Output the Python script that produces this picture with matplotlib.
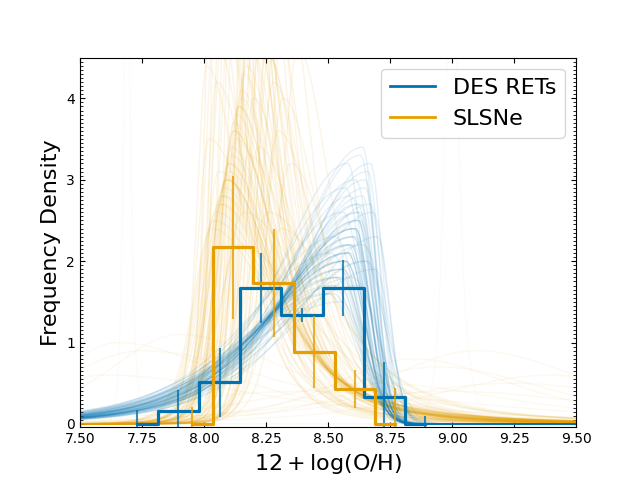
import matplotlib
matplotlib.use('Agg')
import matplotlib.pyplot as plt
from matplotlib.ticker import MultipleLocator
import numpy as np

BLUE = '#0072B2'
ORANGE = '#E69F00'

# binned histograms (bin centres, density, error)
des_centres = [7.730, 7.896, 8.063, 8.229, 8.395, 8.561, 8.727, 8.893]
des_density = [0.00, 0.16, 0.51, 1.67, 1.34, 1.67, 0.33, 0.00]
des_err = [0.17, 0.26, 0.42, 0.43, 0.09, 0.34, 0.43, 0.10]

sl_centres = [7.952, 8.117, 8.281, 8.445, 8.608, 8.772]
sl_density = [0.00, 2.17, 1.73, 0.88, 0.43, 0.00]
sl_err = [0.21, 0.88, 0.66, 0.44, 0.23, 0.44]

# individual posterior curves: mode, peak height, left width, right width
des_mode = [8.58, 8.62, 8.55, 8.60, 8.64, 8.57, 8.61, 8.53, 8.66, 8.59,
            8.63, 8.56, 8.60, 8.62, 8.54, 8.65, 8.58, 8.61, 8.57, 8.63,
            8.59, 8.52, 8.64, 8.60, 8.56, 8.62, 8.58, 8.67, 8.55, 8.61,
            8.59, 8.63, 8.57, 8.60, 8.54, 8.62, 8.58, 8.65, 8.61, 8.56,
            8.68, 8.50, 8.57, 8.70, 8.63, 8.55, 8.66, 8.59, 8.52, 8.64,
            8.61, 8.69, 8.56, 8.60, 8.53, 8.67, 8.58, 8.62, 8.65, 8.51]
des_peak = [2.2, 2.5, 1.9, 2.3, 2.8, 2.0, 2.4, 1.8, 3.1, 2.1,
            2.6, 1.9, 2.2, 2.7, 1.7, 2.9, 2.1, 2.3, 2.0, 2.5,
            2.2, 1.7, 3.4, 2.4, 1.9, 2.6, 2.1, 3.2, 1.8, 2.4,
            2.2, 2.7, 2.0, 2.3, 1.8, 2.5, 2.1, 3.0, 2.4, 2.0,
            2.6, 1.6, 2.9, 2.3, 3.3, 1.5, 2.0, 2.8, 1.6, 2.2,
            3.0, 1.9, 2.6, 1.8, 2.3, 2.7, 3.2, 1.7, 2.0, 2.1]
des_left = [0.35, 0.33, 0.37, 0.34, 0.31, 0.36, 0.33, 0.38, 0.30, 0.35,
            0.32, 0.37, 0.34, 0.31, 0.39, 0.30, 0.35, 0.34, 0.36, 0.32,
            0.35, 0.40, 0.29, 0.33, 0.37, 0.32, 0.36, 0.29, 0.38, 0.33,
            0.35, 0.31, 0.36, 0.34, 0.38, 0.32, 0.35, 0.30, 0.33, 0.37,
            0.31, 0.40, 0.31, 0.33, 0.28, 0.42, 0.36, 0.30, 0.40, 0.34,
            0.30, 0.37, 0.32, 0.38, 0.34, 0.32, 0.29, 0.39, 0.35, 0.36]
des_right = [0.07, 0.06, 0.08, 0.07, 0.05, 0.08, 0.06, 0.09, 0.05, 0.07,
             0.06, 0.08, 0.07, 0.06, 0.09, 0.05, 0.07, 0.06, 0.08, 0.06,
             0.07, 0.10, 0.05, 0.07, 0.08, 0.06, 0.07, 0.05, 0.09, 0.06,
             0.07, 0.06, 0.08, 0.07, 0.09, 0.06, 0.07, 0.05, 0.06, 0.08,
             0.06, 0.11, 0.07, 0.05, 0.06, 0.10, 0.07, 0.08, 0.10, 0.09,
             0.07, 0.06, 0.08, 0.10, 0.09, 0.05, 0.06, 0.09, 0.08, 0.11]

sl_mode = [8.10, 8.15, 8.07, 8.20, 8.12, 8.05, 8.18, 8.09, 8.25, 8.13,
           8.08, 8.16, 8.22, 8.11, 8.04, 8.14, 8.28, 8.10, 8.19, 8.06,
           8.13, 8.23, 8.09, 8.17, 8.12, 8.03, 8.21, 8.15, 8.30, 8.08,
           8.11, 8.18, 8.14, 8.07, 8.26, 8.10, 8.16, 8.12, 8.20, 8.09,
           8.02, 8.24, 8.13, 8.06, 8.32, 8.17, 8.11, 8.27, 8.05, 8.19,
           8.14, 8.08, 8.22, 8.35, 8.10, 8.16, 8.04, 8.29, 8.12, 8.18,
           8.03, 8.33, 8.06, 8.38, 8.01, 8.26, 8.07, 8.31]
sl_peak = [3.2, 4.0, 2.8, 4.8, 3.6, 2.6, 5.5, 3.0, 4.6, 3.8,
           2.9, 4.3, 5.2, 3.4, 2.5, 3.9, 4.2, 3.1, 6.0, 2.7,
           3.5, 4.9, 3.0, 4.4, 3.7, 2.4, 5.8, 4.1, 3.6, 2.8,
           3.3, 4.7, 3.9, 2.7, 4.5, 3.2, 5.0, 3.6, 4.0, 3.0,
           3.5, 6.5, 7.0, 3.1, 4.0, 6.8, 5.3, 5.6, 4.2, 7.5,
           2.2, 5.0, 3.4, 3.2, 6.2, 2.6, 4.8, 5.0, 8.0, 3.3,
           6.0, 5.5, 7.2, 4.6, 4.4, 2.6, 5.2, 2.4]
sl_left = [0.06, 0.05, 0.07, 0.05, 0.06, 0.08, 0.04, 0.07, 0.05, 0.06,
           0.07, 0.05, 0.04, 0.06, 0.08, 0.05, 0.06, 0.07, 0.04, 0.08,
           0.06, 0.05, 0.07, 0.05, 0.06, 0.08, 0.04, 0.05, 0.07, 0.07,
           0.06, 0.05, 0.06, 0.08, 0.05, 0.06, 0.04, 0.06, 0.05, 0.07,
           0.05, 0.04, 0.03, 0.06, 0.07, 0.04, 0.05, 0.05, 0.04, 0.03,
           0.09, 0.05, 0.07, 0.08, 0.04, 0.09, 0.04, 0.05, 0.03, 0.07,
           0.03, 0.06, 0.03, 0.07, 0.04, 0.10, 0.04, 0.09]
sl_right = [0.20, 0.17, 0.24, 0.14, 0.19, 0.26, 0.13, 0.22, 0.15, 0.18,
            0.23, 0.16, 0.13, 0.20, 0.27, 0.17, 0.16, 0.21, 0.12, 0.25,
            0.19, 0.14, 0.22, 0.16, 0.18, 0.28, 0.12, 0.17, 0.18, 0.24,
            0.20, 0.15, 0.17, 0.25, 0.15, 0.21, 0.14, 0.19, 0.16, 0.22,
            0.22, 0.11, 0.10, 0.24, 0.17, 0.11, 0.13, 0.12, 0.17, 0.09,
            0.32, 0.14, 0.20, 0.19, 0.12, 0.30, 0.15, 0.13, 0.08, 0.21,
            0.12, 0.12, 0.10, 0.15, 0.16, 0.28, 0.13, 0.26]

# poorly constrained SLSN hosts (broad)
sl_wide_mode = [7.75, 8.95, 9.25, 8.40, 7.60, 9.10, 8.70, 7.90, 9.40, 8.85, 7.65, 9.00]
sl_wide_peak = [0.9, 0.7, 0.5, 0.4, 0.6, 0.9, 0.5, 1.1, 0.6, 0.8, 1.0, 0.4]
sl_wide_left = [0.35, 0.45, 0.60, 0.70, 0.30, 0.40, 0.50, 0.30, 0.50, 0.35, 0.25, 0.60]
sl_wide_right = [0.60, 0.50, 0.60, 0.80, 0.70, 0.50, 0.60, 0.50, 0.40, 0.45, 0.50, 0.70]

# two very narrow ones, barely visible
sl_spike_mode = [7.69, 9.00]
sl_spike_peak = [6.0, 6.0]
sl_spike_width = [0.015, 0.03]


def curve(x, mode, peak, left, right, nu_right):
    d = x - mode
    y_left = (1 + d ** 2 / (4 * left ** 2)) ** -2.5
    if nu_right is None:
        y_right = np.exp(-0.5 * (d / right) ** 2)
    else:
        y_right = (1 + d ** 2 / (nu_right * right ** 2)) ** (-(nu_right + 1) / 2)
    return peak * np.where(d < 0, y_left, y_right)


x = np.linspace(7.5, 9.5, 801)

plt.figure(figsize=(6.4, 4.8), dpi=100)
ax = plt.gca()

for m, p, w in zip(sl_spike_mode, sl_spike_peak, sl_spike_width):
    ax.plot(x, curve(x, m, p, w, w, 2), color=ORANGE, alpha=0.03, lw=1)
for m, p, l, r in zip(sl_wide_mode, sl_wide_peak, sl_wide_left, sl_wide_right):
    ax.plot(x, curve(x, m, p, l, r, 2), color=ORANGE, alpha=0.06, lw=1)
for m, p, l, r in zip(sl_mode, sl_peak, sl_left, sl_right):
    ax.plot(x, curve(x, m, p, l, r, 2), color=ORANGE, alpha=0.1, lw=1)
for m, p, l, r in zip(des_mode, des_peak, des_left, des_right):
    ax.plot(x, curve(x, m, p, l, r, None), color=BLUE, alpha=0.1, lw=1)

ax.step(des_centres, des_density, where='mid', color=BLUE, lw=2.3)
ax.errorbar(des_centres, des_density, yerr=des_err, fmt='none',
            ecolor=BLUE, elinewidth=1.5, alpha=0.8)
ax.step(sl_centres, sl_density, where='mid', color=ORANGE, lw=2.3)
ax.errorbar(sl_centres, sl_density, yerr=sl_err, fmt='none',
            ecolor=ORANGE, elinewidth=1.5, alpha=0.8)

ax.plot([], [], color=BLUE, lw=2, label='DES RETs')
ax.plot([], [], color=ORANGE, lw=2, label='SLSNe')
ax.legend(loc='upper right', fontsize=16)

ax.set_xlim(7.5, 9.5)
ax.set_ylim(-0.04, 4.5)
ax.set_xticks(np.arange(7.5, 9.51, 0.25))
ax.set_xticklabels(['%.2f' % t for t in np.arange(7.5, 9.51, 0.25)])
ax.set_yticks([0, 1, 2, 3, 4])
ax.yaxis.set_minor_locator(MultipleLocator(0.05))
ax.tick_params(which='both', direction='in', top=True, right=True)
ax.set_xlabel(r'$12 + \log(\mathrm{O/H})$', fontsize=16)
ax.set_ylabel('Frequency Density', fontsize=16)

plt.savefig('out.png', dpi=100)
